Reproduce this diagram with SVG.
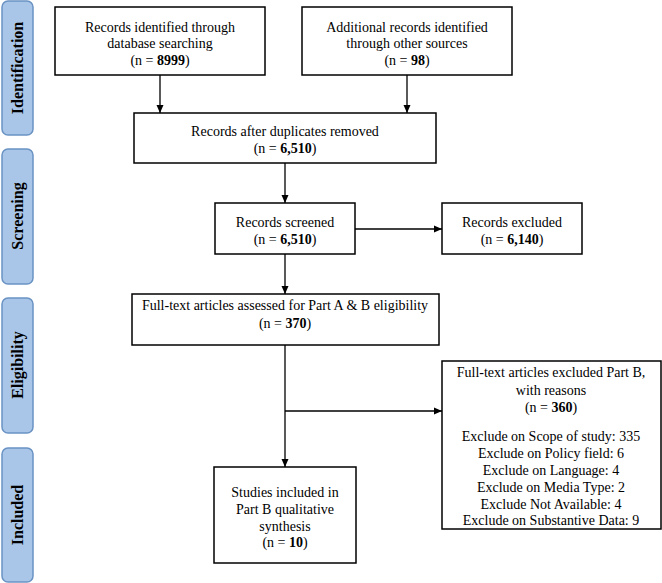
<svg xmlns="http://www.w3.org/2000/svg" width="662" height="583" viewBox="0 0 662 583">
<defs>
<marker id="ah" markerWidth="8" markerHeight="8" refX="8" refY="4" orient="auto" markerUnits="userSpaceOnUse">
<path d="M0,0.5 L8,4 L0,7.5 Z" fill="#000"/>
</marker>
<style>
.box{fill:#fff;stroke:#000;stroke-width:1.5}
.lab{fill:#a9c6e8;stroke:#6a93c4;stroke-width:1.5}
.t{font-family:"Liberation Serif","Times New Roman",serif;font-size:14px;fill:#000;text-anchor:middle}
.lt{font-family:"Liberation Serif","Times New Roman",serif;font-size:16px;font-weight:bold;fill:#000;text-anchor:middle}
.b{font-weight:bold}
.c{fill:none;stroke:#000;stroke-width:1.3}
</style>
</defs>
<rect width="662" height="583" fill="#fff"/>
<g id="label-identification"><rect class="lab" x="2" y="1" width="31" height="134" rx="6"/><text class="lt" transform="translate(23,68) rotate(-90)">Identification</text></g>
<g id="label-screening"><rect class="lab" x="2" y="149" width="31" height="135" rx="6"/><text class="lt" transform="translate(23,216) rotate(-90)">Screening</text></g>
<g id="label-eligibility"><rect class="lab" x="2" y="298" width="31" height="135" rx="6"/><text class="lt" transform="translate(23,365) rotate(-90)">Eligibility</text></g>
<g id="label-included"><rect class="lab" x="2" y="448" width="31" height="134" rx="6"/><text class="lt" transform="translate(23,515) rotate(-90)">Included</text></g>

<g id="n1"><rect class="box" x="55" y="7" width="210" height="68"/>
<text class="t" x="160" y="32">Records identified through</text>
<text class="t" x="160" y="48">database searching</text>
<text class="t" x="160" y="65">(n = <tspan class="b">8999</tspan>)</text></g>
<g id="n2"><rect class="box" x="302" y="7" width="210" height="68"/>
<text class="t" x="407" y="32">Additional records identified</text>
<text class="t" x="407" y="48">through other sources</text>
<text class="t" x="407" y="65">(n = <tspan class="b">98</tspan>)</text></g>
<g id="n3"><rect class="box" x="134" y="113" width="302" height="50"/>
<text class="t" x="285" y="136">Records after duplicates removed</text>
<text class="t" x="285" y="153">(n = <tspan class="b">6,510</tspan>)</text></g>
<g id="n4"><rect class="box" x="215" y="203" width="140" height="51"/>
<text class="t" x="285" y="227">Records screened</text>
<text class="t" x="285" y="244">(n = <tspan class="b">6,510</tspan>)</text></g>
<g id="n5"><rect class="box" x="442" y="203" width="140" height="51"/>
<text class="t" x="512" y="227">Records excluded</text>
<text class="t" x="512" y="244">(n =  <tspan class="b">6,140</tspan>)</text></g>
<g id="n6"><rect class="box" x="132" y="294" width="307" height="51"/>
<text class="t" x="285" y="310">Full-text articles assessed for Part A &amp; B eligibility</text>
<text class="t" x="285" y="328">(n = <tspan class="b">370</tspan>)</text></g>
<g id="n7"><rect class="box" x="442" y="361" width="219" height="168"/>
<text class="t" x="551" y="377">Full-text articles excluded Part B,</text>
<text class="t" x="551" y="395">with reasons</text>
<text class="t" x="551" y="412">(n = <tspan class="b">360</tspan>)</text>
<text class="t" x="551" y="441">Exclude on Scope of study: 335</text>
<text class="t" x="551" y="458">Exclude on Policy field: 6</text>
<text class="t" x="551" y="475">Exclude on Language: 4</text>
<text class="t" x="551" y="492">Exclude on Media Type: 2</text>
<text class="t" x="551" y="509">Exclude Not Available: 4</text>
<text class="t" x="551" y="525">Exclude on Substantive Data: 9</text></g>
<g id="n8"><rect class="box" x="214" y="467" width="142" height="96"/>
<text class="t" x="285" y="497">Studies included in</text>
<text class="t" x="285" y="514">Part B qualitative</text>
<text class="t" x="285" y="531">synthesis</text>
<text class="t" x="285" y="547">(n =  <tspan class="b">10</tspan>)</text></g>

<g id="connectors">
<line class="c" x1="160" y1="75" x2="160" y2="113" marker-end="url(#ah)"/>
<line class="c" x1="407" y1="75" x2="407" y2="113" marker-end="url(#ah)"/>
<line class="c" x1="285" y1="163" x2="285" y2="203" marker-end="url(#ah)"/>
<line class="c" x1="355" y1="229" x2="442" y2="229" marker-end="url(#ah)"/>
<line class="c" x1="285" y1="254" x2="285" y2="294" marker-end="url(#ah)"/>
<line class="c" x1="285" y1="345" x2="285" y2="467" marker-end="url(#ah)"/>
<line class="c" x1="285" y1="411" x2="442" y2="411" marker-end="url(#ah)"/>
</g>
</svg>
